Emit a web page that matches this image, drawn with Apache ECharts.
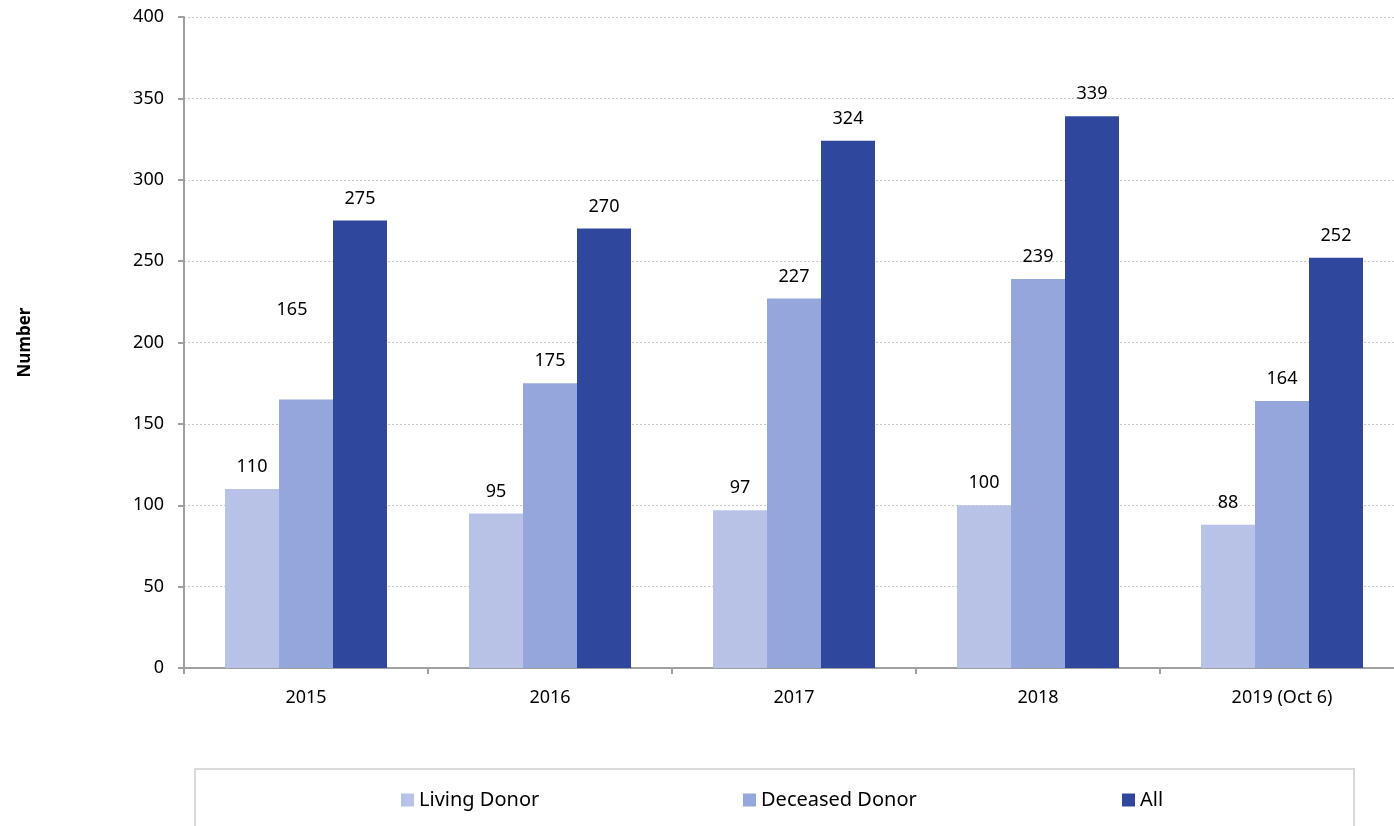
<!DOCTYPE html>
<html>
<head>
<meta charset="utf-8">
<script src="https://cdn.jsdelivr.net/npm/echarts@6/dist/echarts.min.js"></script>
<style>html,body{margin:0;padding:0;background:#fff;overflow:hidden;}#c{width:1404px;height:826px;}</style>
</head>
<body>
<div id="c"></div>
<script>
const categories = ['2015', '2016', '2017', '2018', '2019 (Oct 6)'];
const livingDonor = [110, 95, 97, 100, 88];
const deceasedDonor = [165, 175, 227, 239, 164];
const allDonors = [275, 270, 324, 339, 252];
const yTicks = [0, 50, 100, 150, 200, 250, 300, 350, 400];

const FONT = 'Noto Sans';
const colors = ['#B8C2E7', '#95A6DD', '#2F489D'];

const chart = echarts.init(document.getElementById('c'), null, {renderer: 'canvas'});

function labelCfg() {
  return {show: true, position: 'top', distance: 13, color: '#000', fontFamily: FONT, fontSize: 18};
}

const deceasedData = deceasedDonor.map((v, i) => i === 0
  ? {value: v, label: {offset: [-14, -68]}}
  : v);

const legendBase = {
  top: 785, itemWidth: 13, itemHeight: 13, icon: 'rect', itemGap: 6,
  textStyle: {fontFamily: FONT, fontSize: 20, color: '#000'}
};

chart.setOption({
  animation: false,
  color: colors,
  grid: {left: 184, top: 17, bottom: 158, right: 0, containLabel: false},
  graphic: [{
    type: 'rect', left: 194, top: 768,
    shape: {width: 1159, height: 80},
    style: {fill: '#fff', stroke: '#D9D9D9', lineWidth: 2},
    z: 0
  }],
  legend: [
    Object.assign({}, legendBase, {left: 396, data: ['Living Donor']}),
    Object.assign({}, legendBase, {left: 738, data: ['Deceased Donor']}),
    Object.assign({}, legendBase, {left: 1117, data: ['All']})
  ],
  xAxis: {
    type: 'category',
    data: categories,
    axisLine: {lineStyle: {color: '#A0A0A0', width: 2}},
    axisTick: {show: true, length: 6, lineStyle: {color: '#A0A0A0', width: 2}},
    axisLabel: {color: '#000', fontFamily: FONT, fontSize: 18, margin: 21}
  },
  yAxis: {
    type: 'value',
    min: yTicks[0], max: yTicks[yTicks.length - 1], interval: 50,
    name: 'Number',
    nameLocation: 'middle',
    nameGap: 150,
    nameTextStyle: {fontFamily: FONT, fontSize: 17, fontWeight: 'bold', color: '#000'},
    axisLine: {show: true, lineStyle: {color: '#A0A0A0', width: 2}},
    axisTick: {show: true, length: 6, lineStyle: {color: '#A0A0A0', width: 2}},
    axisLabel: {color: '#000', fontFamily: FONT, fontSize: 18, margin: 20},
    splitLine: {show: true, lineStyle: {color: '#C8C8C8', type: [2, 2], width: 1}}
  },
  series: [
    {name: 'Living Donor', type: 'bar', data: livingDonor, barGap: '0%', barCategoryGap: '33.6%', label: labelCfg()},
    {name: 'Deceased Donor', type: 'bar', data: deceasedData, barGap: '0%', barCategoryGap: '33.6%', label: labelCfg()},
    {name: 'All', type: 'bar', data: allDonors, barGap: '0%', barCategoryGap: '33.6%', label: labelCfg()}
  ]
});
</script>
</body>
</html>
